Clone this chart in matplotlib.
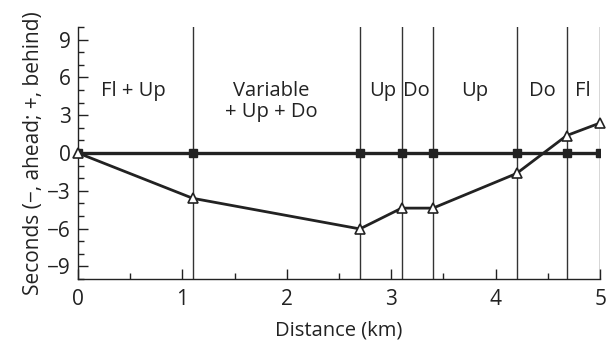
import matplotlib
matplotlib.use('Agg')
import matplotlib.pyplot as plt
from matplotlib.ticker import MultipleLocator

plt.rcParams['font.family'] = ['Open Sans', 'DejaVu Sans']

# 分段位置 (km) 及对应时间差 (秒)
split_km = [0, 1.1, 2.7, 3.1, 3.4, 4.2, 4.68, 5.0]
even_pace = [0, 0, 0, 0, 0, 0, 0, 0]
actual = [0, -3.6, -6.03, -4.38, -4.38, -1.63, 1.38, 2.38]

# 各段地形标注
seg_labels = ['Fl + Up', 'Variable\n+ Up + Do', 'Up', 'Do', 'Up', 'Do', 'Fl']
seg_label_x = [0.53, 1.85, 2.92, 3.24, 3.8, 4.45, 4.83]

fig = plt.figure(figsize=(6.13, 3.41), dpi=100)
ax = fig.add_axes([0.127, 0.182, 0.852, 0.739])

for x in split_km[1:]:
    ax.axvline(x, color='#333333', lw=1.0, zorder=1)

ax.plot(split_km, even_pace, color='#222222', lw=2.4, marker='s', ms=6,
        mfc='#222222', mec='#222222', zorder=3)
ax.plot(split_km, actual, color='#222222', lw=2.0, marker='^', ms=7.5,
        mfc='white', mec='#222222', mew=1.2, zorder=4, clip_on=False)

for lab, x in zip(seg_labels, seg_label_x):
    ax.text(x, 5.7, lab, ha='center', va='top', fontsize=14.5,
            color='#222222', linespacing=1.05)

ax.set_xlim(0, 5)
ax.set_ylim(-10, 10)
ax.xaxis.set_major_locator(MultipleLocator(1))
ax.xaxis.set_minor_locator(MultipleLocator(0.5))
ax.yaxis.set_minor_locator(MultipleLocator(1))
ax.set_yticks([-9, -6, -3, 0, 3, 6, 9])
ax.set_yticklabels(['\u22129', '\u22126', '\u22123', '0', '3', '6', '9'])
ax.tick_params(which='both', direction='in', labelsize=15, colors='#222222')
ax.tick_params(which='major', length=7, width=1)
ax.tick_params(which='minor', length=4, width=1)
ax.tick_params(axis='x', pad=7)
ax.tick_params(axis='y', pad=5)

for s in ['top', 'right']:
    ax.spines[s].set_visible(False)
for s in ['left', 'bottom']:
    ax.spines[s].set_linewidth(1.0)
    ax.spines[s].set_color('#222222')

ax.set_xlabel('Distance (km)', fontsize=14.5, color='#222222', labelpad=8)
ax.set_ylabel('Seconds (\u2212, ahead; +, behind)', fontsize=15, color='#222222', labelpad=2)

fig.savefig('out.png', dpi=100)
